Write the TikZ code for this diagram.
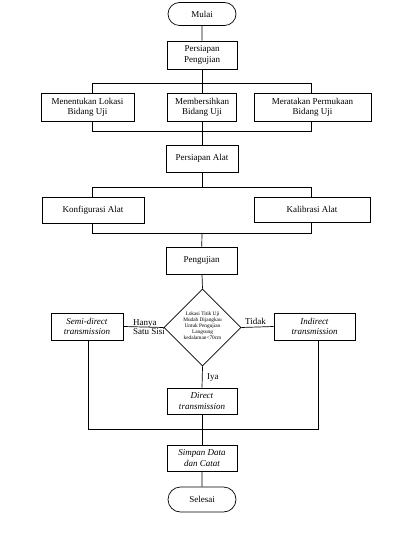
\documentclass[tikz,border=0pt]{standalone}
\usepackage{fontspec}
\setmainfont{Liberation Serif}
\usetikzlibrary{shapes.geometric,shapes.misc}
\begin{document}
\begin{tikzpicture}[x=1pt,y=-1pt,
  box/.style={draw,line width=0.7pt,rectangle,inner sep=1pt,align=center,font=\fontsize{9}{10.5}\selectfont},
  term/.style={draw,line width=0.7pt,rounded rectangle,inner sep=1pt,align=center,font=\fontsize{9}{10.5}\selectfont},
  dec/.style={draw,line width=0.6pt,diamond,inner sep=0pt,align=center,font=\fontsize{5.3}{6}\selectfont},
  conn/.style={line width=0.7pt},
  lbl/.style={font=\fontsize{9}{9.5}\selectfont,inner sep=0pt,align=left}]
\useasboundingbox (0,0) rectangle (408,553);
\node[term,minimum width=70pt,minimum height=23pt] (mulai) at (202,14) {Mulai};
\node[box,minimum width=70pt,minimum height=28pt] (pp) at (202,55) {Persiapan\\Pengujian};
\node[box,minimum width=93pt,minimum height=28pt] (lok) at (87.5,107.5) {Menentukan Lokasi\\Bidang Uji};
\node[box,minimum width=69pt,minimum height=28pt] (bers) at (202,107.5) {Membersihkan\\Bidang Uji};
\node[box,minimum width=117pt,minimum height=28pt] (rata) at (312.5,107.5) {Meratakan Permukaan\\Bidang Uji};
\node[box,minimum width=72pt,minimum height=27pt] (pa) at (202,158.5) {Persiapan Alat};
\node[box,minimum width=102pt,minimum height=26pt] (konf) at (93,210) {Konfigurasi Alat};
\node[box,minimum width=116pt,minimum height=25pt] (kal) at (312,209.5) {Kalibrasi Alat};
\node[box,minimum width=71pt,minimum height=27pt] (peng) at (201.5,260.5) {Pengujian};
\node[dec,minimum width=77pt,minimum height=77pt] (dia) at (202.5,327.5) {};
\node[font=\fontsize{5.3}{6}\selectfont,align=center,inner sep=0pt] (diat) at (202.5,326) {Lokasi Titik Uji\\Mudah Dijangkau\\Untuk Pengujian\\Langsung\\kedalaman<70cm};
\node[box,minimum width=72pt,minimum height=27pt] (semi) at (87,326.5) {\textit{Semi-direct}\\\textit{transmission}};
\node[box,minimum width=81pt,minimum height=27pt] (ind) at (314.5,326.5) {\textit{Indirect}\\\textit{transmission}};
\node[box,minimum width=70pt,minimum height=26pt] (dir) at (202,401) {\textit{Direct}\\\textit{transmission}};
\node[box,minimum width=70pt,minimum height=26pt] (simp) at (202,458) {\textit{Simpan Data}\\\textit{dan Catat}};
\node[term,minimum width=70pt,minimum height=25pt] (sel) at (202,499.5) {Selesai};
% labels
\node[lbl,anchor=east] (hanya) at (165,327) {Hanya\\Satu Sisi};
\node[lbl,anchor=south west] (tidak) at (245,325) {Tidak};
\node[lbl,anchor=west] (iya) at (207,378) {Iya};
% coordinates
\coordinate (b1) at (202,83);
\coordinate (b1l) at (92,83);
\coordinate (b1r) at (311,83);
\coordinate (b2) at (202,131);
\coordinate (b2l) at (92,131);
\coordinate (b2r) at (311,131);
\coordinate (b3) at (202,187);
\coordinate (b3l) at (92,187);
\coordinate (b3r) at (311,187);
\coordinate (b4) at (202,233);
\coordinate (b4l) at (92,233);
\coordinate (b4r) at (311,233);
\coordinate (b5l) at (88,429);
\coordinate (b5r) at (318,429);
% connectors
\draw[conn] (mulai) -- (pp);
\draw[conn] (pp) -- (b1);
\draw[conn] (b1l) -- (b1r);
\draw[conn] (b1l) -- (b1l |- lok.north);
\draw[conn] (b1) -- (bers);
\draw[conn] (b1r) -- (b1r |- rata.north);
\draw[conn] (b2l |- lok.south) -- (b2l) -- (b2r) -- (b2r |- rata.south);
\draw[conn] (bers) -- (pa);
\draw[conn] (pa) -- (b3);
\draw[conn] (b3l |- konf.north) -- (b3l) -- (b3r) -- (b3r |- kal.north);
\draw[conn] (b4l |- konf.south) -- (b4l) -- (b4r) -- (b4r |- kal.south);
\draw[conn] (b4) -- (peng);
\draw[conn] (peng) -- (dia.north);
\draw[conn] (dia.west) -- (semi.east);
\draw[conn] (dia.east) -- (ind.west);
\draw[conn] (dia.south) -- (dir.north);
\draw[conn] (b5l |- semi.south) -- (b5l) -- (b5r) -- (b5r |- ind.south);
\draw[conn] (dir) -- (simp);
\draw[conn] (simp) -- (sel);
\end{tikzpicture}
\end{document}
